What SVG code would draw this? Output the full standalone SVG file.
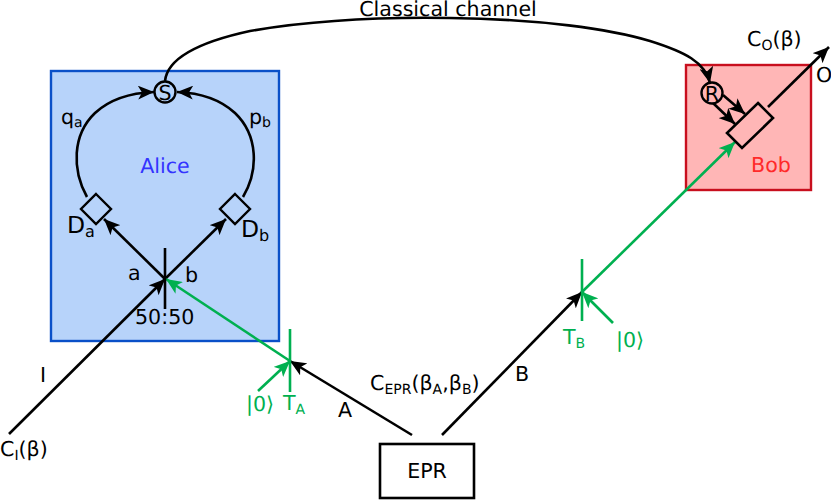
<svg xmlns="http://www.w3.org/2000/svg" width="831" height="500" viewBox="0 0 831 500">
<style>
text{font-family:"DejaVu Sans",sans-serif;font-size:20.6px;fill:#000;text-rendering:geometricPrecision}
.g{fill:#00b050}
.sub{font-size:14px}
.k{fill:none;stroke:#000;stroke-width:2.6px}
.kg{fill:none;stroke:#00b050;stroke-width:2.6px}
</style>
<defs>
<marker id="a" markerUnits="userSpaceOnUse" markerWidth="18" markerHeight="14" refX="16" refY="7" orient="auto"><path d="M0 0L16 7L0 14L4 7Z" fill="#000"/></marker>
<marker id="ag" markerUnits="userSpaceOnUse" markerWidth="18" markerHeight="14" refX="16" refY="7" orient="auto"><path d="M0 0L16 7L0 14L4 7Z" fill="#00b050"/></marker>
</defs>
<g id="alice"><rect x="51" y="71" width="228" height="270" fill="#b7d3fa" stroke="#0a50c8" stroke-width="2.4"/><text x="165" y="173" text-anchor="middle" style="fill:#3333ff">Alice</text></g>
<g id="bob"><rect x="686" y="65" width="125" height="125" fill="#ffb6b6" stroke="#c80f1e" stroke-width="2.4"/><text x="771" y="172" text-anchor="middle" style="fill:#ff2a2a">Bob</text></g>
<g id="connectors">
<path class="k" marker-end="url(#a)" d="M87 197C72 170 72 135 95 113C108 101 127 93 154 92"/>
<path class="k" marker-end="url(#a)" d="M243 197C259 170 258 135 235 113C222 101 203 93 177 92"/>
<path class="k" marker-end="url(#a)" d="M165 81C167 62 190 44 250 31C320 19 390 17 450 18C540 19 610 29 650 41C685 52 705 62 710 83"/>
<path class="k" marker-end="url(#a)" d="M9 434L165 279"/>
<path class="k" marker-end="url(#a)" d="M165 279L104 219"/>
<path class="k" marker-end="url(#a)" d="M165 279L226 219"/>
<path class="k" marker-end="url(#a)" d="M412 435L290 361"/>
<path class="k" marker-end="url(#a)" d="M442 435L582 292"/>
<path class="k" marker-end="url(#a)" d="M723 95L745 114"/>
<path class="k" marker-end="url(#a)" d="M713 103L735 124"/>
<path class="k" marker-end="url(#a)" d="M768 107L829 47"/>
<path class="kg" marker-end="url(#ag)" d="M290 361L166 279"/>
<path class="kg" marker-end="url(#ag)" d="M258 391L290 361"/>
<path class="kg" marker-end="url(#ag)" d="M582 292L735 142"/>
<path class="kg" marker-end="url(#ag)" d="M613 323L582 292"/>
<path class="kg" d="M290 329V392"/>
<path class="kg" d="M582 259V321"/>
<path class="k" d="M165 248V309"/>
</g>
<g id="S"><circle cx="165" cy="92" r="10.5" fill="#b7d3fa" stroke="#000" stroke-width="2.4"/><text x="165" y="99.500" text-anchor="middle">S</text></g>
<g id="R"><circle cx="712" cy="93" r="10.5" fill="#ffb6b6" stroke="#000" stroke-width="2.4"/><text x="712" y="100.500" text-anchor="middle">R</text></g>
<g id="Da"><path d="M96 194L111 209L96 224L81 209Z" fill="#b7d3fa" stroke="#000" stroke-width="2.4"/><text x="67" y="233" style="font-size:23.500px">D<tspan dy="4" style="font-size:16px">a</tspan></text></g>
<g id="Db"><path d="M235 194L250 209L235 224L220 209Z" fill="#b7d3fa" stroke="#000" stroke-width="2.4"/><text x="241" y="237" style="font-size:23.500px">D<tspan dy="4" style="font-size:16px">b</tspan></text></g>
<g id="mixer"><path d="M758 103L773 118L742 148L727 133Z" fill="#ffb6b6" stroke="#000" stroke-width="2.6"/></g>
<g id="EPR"><rect x="380" y="444" width="94" height="54" fill="#fff" stroke="#000" stroke-width="2.6"/><text x="427" y="478" text-anchor="middle">EPR</text></g>
<g id="labels">
<text x="448" y="16" text-anchor="middle">Classical channel</text>
<text x="61" y="124">q<tspan class="sub" dy="3">a</tspan></text>
<text x="249" y="124">p<tspan class="sub" dy="3">b</tspan></text>
<text x="128" y="280">a</text>
<text x="185" y="282">b</text>
<text x="135" y="324">50:50</text>
<text x="40" y="382">I</text>
<text x="0" y="456">C<tspan class="sub" dy="4">I</tspan><tspan dy="-4">(β)</tspan></text>
<text x="338" y="417">A</text>
<text x="515" y="381">B</text>
<text x="370" y="390">C<tspan class="sub" dy="4">EPR</tspan><tspan dy="-4">(β</tspan><tspan class="sub" dy="4">A</tspan><tspan dy="-4">,β</tspan><tspan class="sub" dy="4">B</tspan><tspan dy="-4">)</tspan></text>
<text x="747" y="46">C<tspan class="sub" dy="4">O</tspan><tspan dy="-4">(β)</tspan></text>
<text x="816" y="82">O</text>
<text x="246" y="411" class="g">|0⟩</text>
<text x="283" y="410" class="g">T<tspan class="sub g" dy="4">A</tspan></text>
<text x="563" y="344" class="g">T<tspan class="sub g" dy="4">B</tspan></text>
<text x="616" y="347" class="g">|0⟩</text>
</g>
</svg>
